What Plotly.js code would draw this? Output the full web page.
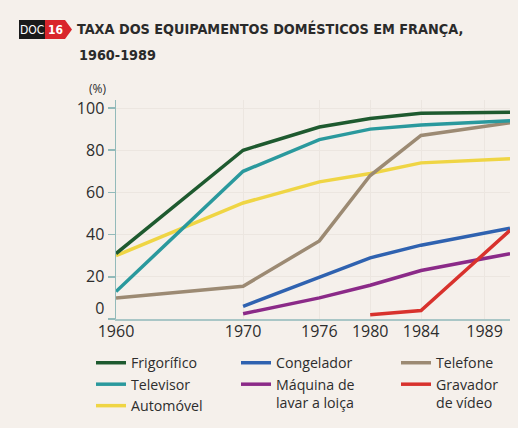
<!DOCTYPE html>
<html>
<head>
<meta charset="utf-8">
<script src="https://cdn.plot.ly/plotly-3.0.1.min.js"></script>
<style>html,body{margin:0;padding:0;background:#f5f0eb;}#chart{width:518px;height:428px;}</style>
</head>
<body>
<div id="chart"></div>
<script>
// ---- data ----
const years = [1960, 1970, 1976, 1980, 1984, 1991];
const tickYears = [1960, 1970, 1976, 1980, 1984, 1989];
const yTicks = [0, 20, 40, 60, 80, 100];
const yTickText = ['0<br>&nbsp;', '20', '40', '60', '80', '100'];

const frigorifico = [31, 80, 91, 95, 97.5, 98];
const televisor   = [13, 70, 85, 90, 92, 94];
const automovel   = [30, 55, 65, 69, 74, 76];
const telefone    = [10, 15.5, 37, 68, 87, 93];
const congeladorYears = [1970, 1976, 1980, 1984, 1991];
const congelador  = [6, 20, 29, 35, 43];
const maquinaYears = [1970, 1976, 1980, 1984, 1991];
const maquina     = [2.5, 10, 16, 23, 31];
const gravadorYears = [1980, 1984, 1991];
const gravador    = [2, 4, 42];

const names = ["Frigorífico", "Televisor", "Automóvel", "Congelador", "Máquina de<br>lavar a loiça", "Telefone", "Gravador<br>de vídeo"];

// ---- layout helpers (pixel -> paper) ----
const L = 116, R = 8, T = 100, B = 109, W = 518, H = 428;
const pw = W - L - R, ph = H - T - B;
const X = px => (px - L) / pw;
const Y = py => (H - B - py) / ph;

const lw = 3.5;
function tr(x, y, name, color, legend) {
  return {x: x, y: y, name: name, type: 'scatter', mode: 'lines',
    line: {color: color, width: lw}, legend: legend, hoverinfo: 'skip'};
}
const data = [
  tr(years, automovel, names[2], '#efd544', 'legend'),
  tr(years, telefone, names[5], '#9c8a73', 'legend3'),
  tr(maquinaYears, maquina, names[4], '#8b2a88', 'legend2'),
  tr(congeladorYears, congelador, names[3], '#2f62b0', 'legend2'),
  tr(gravadorYears, gravador, names[6], '#d8322d', 'legend3'),
  tr(years, televisor, names[1], '#2a999d', 'legend'),
  tr(years, frigorifico, names[0], '#1e5a2f', 'legend'),
];

const legFont = {family: 'Open Sans, Noto Sans, sans-serif', size: 14.2, color: '#2d2d2d'};
function leg(x) {
  return {x: X(x), xanchor: 'left', y: Y(347), yanchor: 'top', bgcolor: 'rgba(0,0,0,0)',
    font: legFont, traceorder: 'normal', valign: 'top', itemwidth: 30, tracegroupgap: 0};
}
const titleFont = {family: 'DejaVu Sans Condensed, sans-serif', size: 14.3, color: '#2a2a2a', weight: 'bold'};

const layout = {
  width: W, height: H,
  margin: {l: L, r: R, t: T, b: B, autoexpand: false},
  paper_bgcolor: '#f5f0eb',
  plot_bgcolor: '#f5f0eb',
  showlegend: true,
  legend: Object.assign(leg(91), {traceorder: 'reversed'}),
  legend2: Object.assign(leg(236), {traceorder: 'reversed'}),
  legend3: leg(396),
  title: {text: 'TAXA DOS EQUIPAMENTOS DOMÉSTICOS EM FRANÇA,',
    font: titleFont,
    xref: 'container', x: 77 / W, xanchor: 'left', yref: 'container', y: 1 - 29 / H, yanchor: 'middle'},
  xaxis: {
    range: [1960, 1991], tickvals: tickYears, ticktext: tickYears.map(String),
    showgrid: true, gridcolor: '#ece6e0', gridwidth: 1, zeroline: false,
    showline: true, linecolor: '#a9c6c6', linewidth: 1.5, ticks: '',
    ticklabelstandoff: -3,
    tickfont: {family: 'Open Sans, Noto Sans, sans-serif', size: 16, color: '#2d2d2d'},
    fixedrange: true
  },
  yaxis: {
    range: [0, 103.8], tickvals: yTicks, ticktext: yTickText,
    showgrid: true, gridcolor: '#ece6e0', gridwidth: 1, zeroline: false,
    showline: true, linecolor: '#93baba', linewidth: 1.5,
    ticks: 'outside', ticklen: 7, tickcolor: '#93baba', tickwidth: 1.5,
    tickfont: {family: 'Open Sans, Noto Sans, sans-serif', size: 16, color: '#2d2d2d'},
    fixedrange: true
  },
  annotations: [
    {text: '1960-1989', xref: 'paper', yref: 'paper', x: X(77), y: Y(55), xanchor: 'left', yanchor: 'middle',
      showarrow: false, font: titleFont},
    {text: '(%)', xref: 'paper', yref: 'paper', x: X(97), y: Y(89), xanchor: 'center', yanchor: 'middle',
      showarrow: false, font: {family: 'Open Sans, Noto Sans, sans-serif', size: 12, color: '#2d2d2d'}},
    {text: 'DOC', xref: 'paper', yref: 'paper', x: X(32), y: Y(29.5), xanchor: 'center', yanchor: 'middle',
      showarrow: false, font: {family: 'DejaVu Sans Condensed, sans-serif', size: 12, color: '#ffffff'}},
    {text: '16', xref: 'paper', yref: 'paper', x: X(56), y: Y(29.5), xanchor: 'center', yanchor: 'middle',
      showarrow: false, font: {family: 'DejaVu Sans Condensed, sans-serif', size: 12, color: '#ffffff', weight: 'bold'}}
  ],
  shapes: [
    {type: 'rect', xref: 'paper', yref: 'paper', x0: X(19), x1: X(45), y0: Y(39), y1: Y(20),
      fillcolor: '#1a1a1a', line: {width: 0}, layer: 'above'},
    {type: 'path', xref: 'paper', yref: 'paper', layer: 'above',
      path: `M ${X(45)} ${Y(20)} L ${X(65)} ${Y(20)} L ${X(72)} ${Y(29.5)} L ${X(65)} ${Y(39)} L ${X(45)} ${Y(39)} Z`,
      fillcolor: '#d9252b', line: {width: 0}}
  ]
};

Plotly.newPlot('chart', data, layout, {displayModeBar: false, staticPlot: true});
</script>
</body>
</html>
